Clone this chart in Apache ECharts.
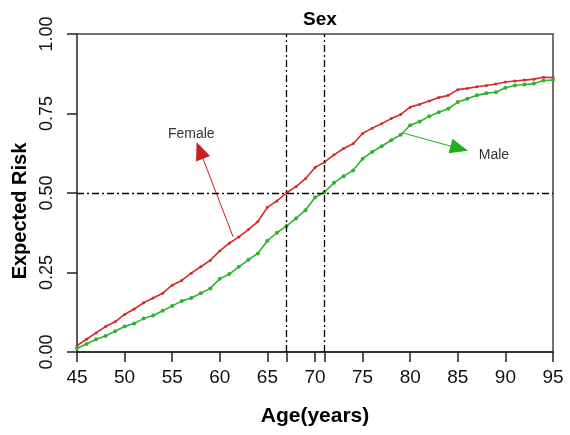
<!DOCTYPE html>
<html>
<head>
<meta charset="utf-8">
<script src="https://cdn.jsdelivr.net/npm/echarts@6/dist/echarts.min.js"></script>
<style>html,body{margin:0;padding:0;background:#fff}#c{width:570px;height:435px}</style>
</head>
<body>
<div id="c"></div>
<script>
const ages = [45,46,47,48,49,50,51,52,53,54,55,56,57,58,59,60,61,62,63,64,65,66,67,68,69,70,71,72,73,74,75,76,77,78,79,80,81,82,83,84,85,86,87,88,89,90,91,92,93,94,95];
const female = [0.020,0.040,0.060,0.080,0.095,0.118,0.135,0.155,0.170,0.185,0.210,0.225,0.248,0.268,0.288,0.318,0.342,0.362,0.385,0.410,0.455,0.475,0.500,0.520,0.545,0.580,0.597,0.620,0.640,0.655,0.687,0.704,0.718,0.734,0.747,0.770,0.779,0.789,0.800,0.807,0.825,0.829,0.834,0.838,0.843,0.849,0.852,0.855,0.858,0.864,0.863];
const male = [0.012,0.025,0.040,0.050,0.065,0.080,0.090,0.105,0.115,0.130,0.145,0.160,0.170,0.185,0.200,0.230,0.245,0.268,0.290,0.310,0.350,0.375,0.396,0.420,0.446,0.486,0.503,0.532,0.553,0.571,0.608,0.629,0.647,0.666,0.683,0.713,0.725,0.741,0.754,0.765,0.786,0.796,0.807,0.814,0.817,0.831,0.838,0.841,0.844,0.854,0.855];
const xTicks = [45,50,55,60,65,70,75,80,85,90,95];
const refAges = [67,71];
const refRisk = 0.5;
const yTicks = [0,0.25,0.5,0.75,1];
const femaleArrow = [[61.4,0.362],[57.9,0.634]];
const maleArrow = [[79.2,0.689],[85.15,0.64]];
const femaleLabelPos = [57.0,0.684];
const maleLabelPos = [88.8,0.619];

const FONT = 'Liberation Sans, Arial, sans-serif';
const chart = echarts.init(document.getElementById('c'));
const pair = (xs, ys) => xs.map((x,i)=>[x, ys[i]]);
chart.setOption({
  animation: false,
  title: {text:'Sex', left: 315, top: 5, textAlign:'center',
    textStyle:{fontFamily:FONT, fontWeight:'bold', fontSize:19, color:'#000'}},
  grid: {left:77, right:17, top:34, bottom:83, show:true, borderColor:'#444', borderWidth:1.5},
  xAxis: {type:'value', min:45, max:95, interval:5,
    name:'Age(years)', nameLocation:'middle', nameGap:54,
    nameTextStyle:{fontFamily:FONT, fontWeight:'bold', fontSize:21, color:'#000'},
    axisLine:{show:true, lineStyle:{color:'#222', width:1.5}},
    axisTick:{show:true, length:10, customValues: xTicks.concat(refAges), lineStyle:{color:'#222', width:1.5}},
    axisLabel:{customValues: xTicks, margin:16, fontFamily:FONT, fontSize:19, color:'#111'},
    splitLine:{show:false}},
  yAxis: {type:'value', min:0, max:1, interval:0.25,
    name:'Expected Risk', nameLocation:'middle', nameGap:46, nameRotate:90,
    nameTextStyle:{fontFamily:FONT, fontWeight:'bold', fontSize:20, color:'#000', padding:[0,36,0,0]},
    axisLine:{show:true, lineStyle:{color:'#555', width:1.5}},
    axisTick:{show:true, length:10, lineStyle:{color:'#222', width:1.5}},
    axisLabel:{rotate:90, margin:21, fontFamily:FONT, fontSize:18, color:'#111',
      formatter:v=>v.toFixed(2), customValues: yTicks},
    splitLine:{show:false}},
  series: [
    {name:'Female', type:'line', data: pair(ages, female), symbol:'circle', symbolSize:3,
      lineStyle:{color:'#d42a2a', width:1.6}, itemStyle:{color:'#d42a2a'},
      markLine:{silent:true, symbol:['none','triangle'], symbolSize:[15,18],
        lineStyle:{color:'#c42020', width:1, type:'solid'}, label:{show:false},
        data:[[{coord:femaleArrow[0]},{coord:femaleArrow[1]}]]},
      markPoint:{silent:true, symbol:'rect', symbolSize:1, itemStyle:{color:'transparent'},
        label:{show:true, position:'inside', formatter:'Female', fontFamily:FONT, fontSize:14, color:'#333'},
        data:[{coord:femaleLabelPos}]}},
    {name:'Male', type:'line', data: pair(ages, male), symbol:'circle', symbolSize:4,
      lineStyle:{color:'#2cb52c', width:1.6}, itemStyle:{color:'#2cb52c'},
      markLine:{silent:true, symbol:['none','triangle'], symbolSize:[15,18],
        lineStyle:{color:'#1fb01f', width:1, type:'solid'}, label:{show:false},
        data:[[{coord:maleArrow[0]},{coord:maleArrow[1]}]]},
      markPoint:{silent:true, symbol:'rect', symbolSize:1, itemStyle:{color:'transparent'},
        label:{show:true, position:'inside', formatter:'Male', fontFamily:FONT, fontSize:14, color:'#333'},
        data:[{coord:maleLabelPos}]}},
    {name:'ref', type:'line', data:[], 
      markLine:{silent:true, symbol:'none', label:{show:false},
        lineStyle:{color:'#000', width:1.3, type:[7,3,2,3]},
        data: refAges.map(a=>({xAxis:a})).concat([{yAxis:refRisk}])}}
  ]
});
</script>
</body>
</html>
